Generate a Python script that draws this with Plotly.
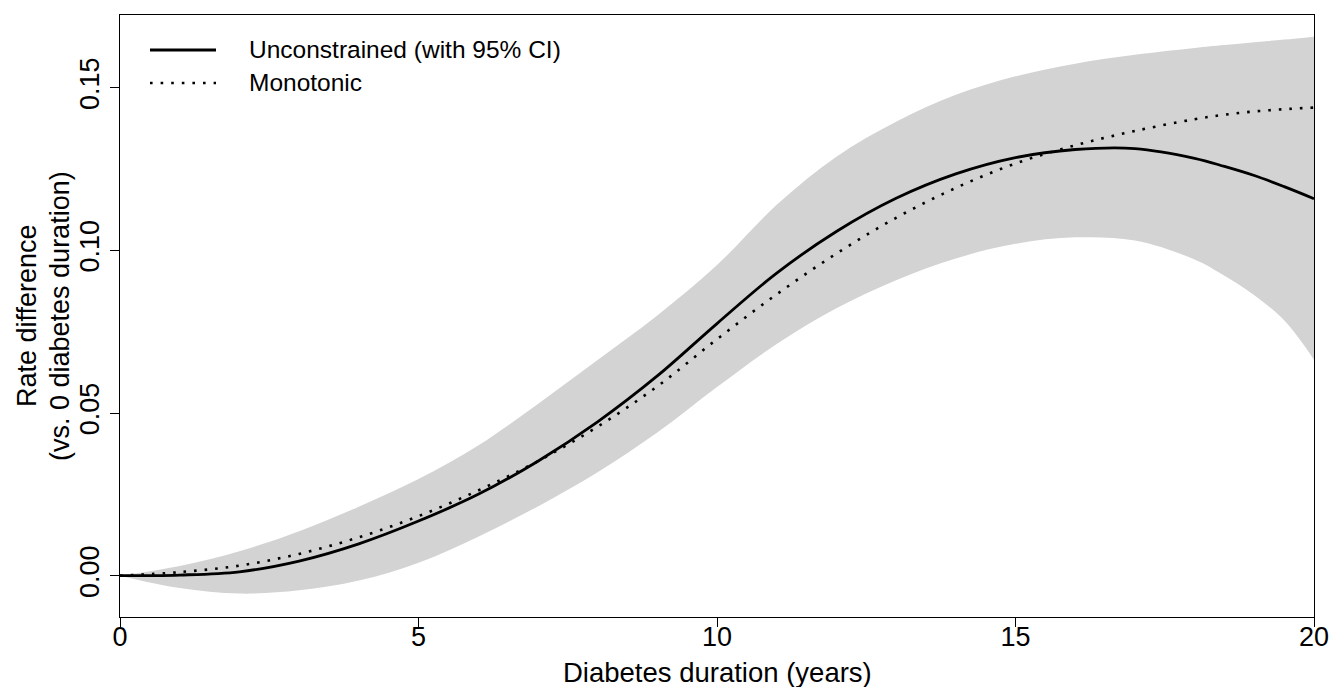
import plotly.graph_objects as go

# ---- data ----
duration = [0, 1, 2, 3, 4, 5, 6, 7, 8, 9, 10, 11, 12, 13, 14, 15, 16, 17, 18, 18.5, 19, 19.5, 20]
unconstrained = [0, 0.0002, 0.0012, 0.0045, 0.0098, 0.0168, 0.0250, 0.0352, 0.0473, 0.0614, 0.0775,
                 0.0930, 0.1058, 0.1160, 0.1235, 0.1285, 0.1310, 0.1313, 0.1283, 0.1258, 0.1230, 0.1196, 0.1159]
monotonic = [0, 0.0011, 0.0031, 0.0067, 0.0118, 0.0183, 0.0262, 0.0352, 0.0458, 0.0582, 0.0727,
             0.0865, 0.0990, 0.1100, 0.1192, 0.1267, 0.1323, 0.1367, 0.1403, 0.1417, 0.1427, 0.1434, 0.1439]
ci_upper = [0, 0.0030, 0.0075, 0.0137, 0.0212, 0.0297, 0.0400, 0.0528, 0.0663, 0.0800, 0.0955,
            0.1140, 0.1288, 0.1395, 0.1478, 0.1535, 0.1574, 0.1601, 0.1622, 0.1631, 0.1640, 0.1648, 0.1657]
ci_lower = [0, -0.0038, -0.0055, -0.0045, -0.0015, 0.0040, 0.0120, 0.0213, 0.0318, 0.0440, 0.0580,
            0.0712, 0.0822, 0.0908, 0.0975, 0.1020, 0.1040, 0.1030, 0.0972, 0.0922, 0.0862, 0.0785, 0.0664]
x_ticks = [0, 5, 10, 15, 20]
y_ticks = [0.00, 0.05, 0.10, 0.15]
y_tick_labels = ["0.00", "0.05", "0.10", "0.15"]
legend_labels = ["Unconstrained (with 95% CI)", "Monotonic"]

FONT = "Liberation Sans, Arial, Helvetica, sans-serif"
W, H = 1334, 687
ML, MR, MT, MB = 120, 20, 15, 70
PW, PH = W - ML - MR, H - MT - MB
DOT = "2.6px,8px"


def px_to_paper(px, py):
    return (px - ML) / PW, (MT + PH - py) / PH


fig = go.Figure()
fig.add_trace(go.Scatter(x=duration, y=ci_lower, mode="lines", line=dict(width=0, shape="spline"),
                         hoverinfo="skip", showlegend=False))
fig.add_trace(go.Scatter(x=duration, y=ci_upper, mode="lines", line=dict(width=0, shape="spline"),
                         fill="tonexty", fillcolor="#D3D3D3", hoverinfo="skip", showlegend=False))
fig.add_trace(go.Scatter(x=duration, y=monotonic, mode="lines", name=legend_labels[1],
                         line=dict(color="black", width=2.6, dash=DOT, shape="spline"),
                         showlegend=False))
fig.add_trace(go.Scatter(x=duration, y=unconstrained, mode="lines", name=legend_labels[0],
                         line=dict(color="black", width=2.8, shape="spline"), showlegend=False))

# custom legend (R style)
for i, (lab, dash) in enumerate(zip(legend_labels, ["solid", DOT])):
    py = 50 + 33 * i
    x0, y0 = px_to_paper(150, py)
    x1, _ = px_to_paper(216, py)
    fig.add_shape(type="line", xref="paper", yref="paper", x0=x0, x1=x1, y0=y0, y1=y0,
                  line=dict(color="black", width=2.8 if dash == "solid" else 2.6, dash=dash))
    tx, ty = px_to_paper(247, py)
    fig.add_annotation(xref="paper", yref="paper", x=tx, y=ty, text=lab, showarrow=False,
                       xanchor="left", yanchor="middle", font=dict(family=FONT, size=24.5, color="black"))

# y axis title (two lines, rotated) placed like R's mtext
for txt, pxx in [("Rate difference", 27), ("(vs. 0 diabetes duration)", 60)]:
    ax, ay = px_to_paper(pxx, MT + PH / 2)
    fig.add_annotation(xref="paper", yref="paper", x=ax, y=ay, text=txt, showarrow=False,
                       textangle=-90, xanchor="center", yanchor="middle",
                       font=dict(family=FONT, size=27, color="black"))

# x axis title
ax, ay = px_to_paper(ML + PW / 2, 672)
fig.add_annotation(xref="paper", yref="paper", x=ax, y=ay, text="Diabetes duration (years)",
                   showarrow=False, xanchor="center", yanchor="middle",
                   font=dict(family=FONT, size=27.5, color="black"))

fig.update_layout(
    width=W, height=H, autosize=False,
    margin=dict(l=ML, r=MR, t=MT, b=MB, pad=0, autoexpand=False),
    paper_bgcolor="white", plot_bgcolor="white",
    font=dict(family=FONT, size=27, color="black"),
    showlegend=False,
)
y_bottom = -(MT + PH - 575.7) / 3253.3
y_top = (575.7 - MT) / 3253.3
fig.update_xaxes(range=[0, 20], tickvals=x_ticks, ticktext=[str(v) for v in x_ticks], automargin=False,
                 showgrid=False, zeroline=False, showline=True, mirror=True, linecolor="black", linewidth=1,
                 ticks="outside", ticklen=9, tickwidth=1, tickcolor="black", ticklabelstandoff=-13,
                 tickfont=dict(family=FONT, size=27), ticklabeloverflow="allow")
fig.update_yaxes(range=[y_bottom, y_top], tickvals=y_ticks, ticktext=y_tick_labels, tickangle=-90,
                 automargin=False,
                 showgrid=False, zeroline=False, showline=True, mirror=True, linecolor="black", linewidth=1,
                 ticks="outside", ticklen=9, tickwidth=1, tickcolor="black",
                 tickfont=dict(family=FONT, size=27))

fig.write_html("out.html", config={"responsive": False})
